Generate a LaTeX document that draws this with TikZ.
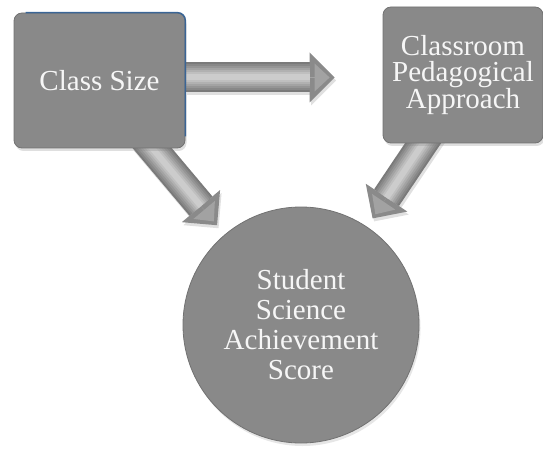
\documentclass[tikz,border=0pt]{standalone}
\usepackage{fontspec}
\setmainfont{Liberation Serif}
\usetikzlibrary{arrows.meta,shadows,calc}
\pgfdeclarelayer{background}
\pgfsetlayers{background,main}
\definecolor{boxgray}{HTML}{898989}
\definecolor{boxedge}{HTML}{727272}
\definecolor{bluerim}{HTML}{3A6596}
\definecolor{arrdark}{HTML}{7A7A7A}
\definecolor{arrhead}{HTML}{8A8A8A}
\definecolor{arrheadlt}{HTML}{A2A2A2}
\definecolor{arrlight}{HTML}{DCDCDC}
\definecolor{txt}{HTML}{F6F6F6}
\tikzset{
  boxnode/.style={rectangle, rounded corners=8pt, fill=boxgray, draw=boxedge,
    line width=0.8pt, text=txt, align=center, inner sep=0pt,
    drop shadow={opacity=0.25, shadow xshift=1.5pt, shadow yshift=-3pt}},
  circnode/.style={circle, fill=boxgray, draw=boxedge, line width=0.8pt,
    text=txt, align=center, inner sep=0pt, minimum size=236pt,
    drop shadow={opacity=0.2, shadow xshift=1.5pt, shadow yshift=-3pt}},
  arrshadow/.style={draw=black, opacity=0.12, line width=30pt,
    transform canvas={xshift=1.5pt,yshift=-3pt},
    -{Triangle[length=25pt,width=50pt,line width=0pt,fill=black]}},
  arrbase/.style={draw=arrdark, line width=30pt,
    -{Triangle[length=25pt,width=50pt,line width=0pt,fill=arrhead]}},
  arrinnertip/.style={draw=arrheadlt, line width=0.1pt,
    -{Triangle[length=15pt,width=28pt,line width=0pt,fill=arrheadlt]}},
}
% shaded shaft of a block arrow: #1 = extra shortening at the head base
\newcommand{\shaftlayers}[3]{%
  \foreach \w/\p in {26/14,22/28,18/42,14/56,10/70,6/84}{%
    \draw[draw=arrlight!\p!arrdark, line width=\w pt, shorten >=#1] (#2) -- (#3);
  }%
}
\begin{document}
\begin{tikzpicture}[x=1pt,y=-1pt]
\useasboundingbox (0,0) rectangle (543,449);

\node[boxnode, minimum width=171pt, minimum height=135pt,
      font=\fontsize{29}{30}\selectfont] (cs) at (99.5,80.5) {Class Size};
\node[boxnode, minimum width=160pt, minimum height=136pt,
      font=\fontsize{29}{26.5}\selectfont] (cp) at (463,75)
      {Classroom\\Pedagogical\\Approach};
\node[circnode, font=\fontsize{29}{30}\selectfont] (sc) at (301,325)
      {Student\\Science\\Achievement\\Score};

\draw[bluerim, line width=1.5pt, rounded corners=8pt]
  ([xshift=12pt]cs.north west) -- (cs.north east) -- ([yshift=12pt]cs.south east);

\coordinate (a1) at ([yshift=3pt]cs.east);
\coordinate (b1) at (a1 -| cp.west);
\coordinate (s2) at ([xshift=44.5pt,yshift=10pt]cs.south);
\coordinate (s3) at ([xshift=-32pt,yshift=12pt]cp.south);

\begin{pgfonlayer}{background}
  % shadows
  \draw[arrshadow, shorten >=48pt] (a1) -- (b1);
  \draw[arrshadow, shorten >=12pt] (s2) -- (sc);
  \draw[arrshadow, shorten >=10pt] (s3) -- (sc);
  % Class Size -> Classroom Pedagogical Approach
  \draw[arrbase, shorten >=48pt] (a1) -- (b1);
  \draw[arrinnertip, shorten >=53pt] (a1) -- (b1);
  \shaftlayers{73pt}{a1}{b1}
  % Class Size -> Student Science Achievement Score
  \draw[arrbase, shorten >=12pt] (s2) -- (sc);
  \draw[arrinnertip, shorten >=17pt] (s2) -- (sc);
  \shaftlayers{37pt}{s2}{sc}
  % Classroom Pedagogical Approach -> Student Science Achievement Score
  \draw[arrbase, shorten >=10pt] (s3) -- (sc);
  \draw[arrinnertip, shorten >=15pt] (s3) -- (sc);
  \shaftlayers{35pt}{s3}{sc}
\end{pgfonlayer}
\end{tikzpicture}
\end{document}
